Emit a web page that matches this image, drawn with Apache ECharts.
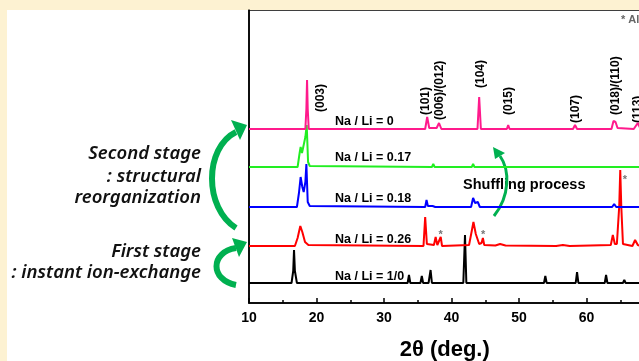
<!DOCTYPE html>
<html>
<head>
<meta charset="utf-8">
<script src="https://cdn.jsdelivr.net/npm/echarts@6/dist/echarts.min.js"></script>
<style>
  html, body { margin: 0; padding: 0; background: #fff; }
  #chart { width: 639px; height: 361px; }
</style>
</head>
<body>
<div id="chart"></div>
<script>
// vertical offsets of each pattern (stacked plot)
var offsets = { black: 20, red: 57, blue: 96, green: 136, pink: 174 }

// [2theta, intensity above own baseline]
var blackPts = [[10,0],[16.3,0],[16.55,12],[16.67,33],[16.8,12],[17.1,0],[33.5,0],[33.7,8],[33.9,0],[35.4,0],[35.6,7],[35.8,0],
  [36.6,0],[36.9,13],[37.1,0],[41.75,0],[42.0,48],[42.2,0],[45.2,0],[45.4,2],[45.6,0],[53.7,0],[53.9,7],[54.1,0],
  [58.4,0],[58.6,11],[58.8,0],[62.7,0],[62.9,8],[63.1,0],[65.4,0],[65.6,3],[65.8,0],[68,0]]
var redPts = [[10,0],[16.8,0],[17.2,8],[17.6,20],[17.9,14],[18.3,4],[18.8,1],[35.85,0],[36.1,29],[36.35,2],[37.4,1],[37.65,9],
  [37.9,1],[38.15,1],[38.4,9],[38.6,0],[42.6,1],[43.0,15],[43.25,24],[43.6,12],[44.1,2],[44.45,3],[44.65,8],[44.85,1],
  [46.5,0.5],[47.2,2],[48,0.5],[55.5,0],[56.5,1],[57.5,0],[63.6,1],[63.9,11],[64.2,2],[64.5,2],[64.85,40],[65.0,76],
  [65.15,40],[65.4,2],[66.8,0],[67.2,6],[67.6,1],[68,0]]
var bluePts = [[10,0],[17.1,0],[17.4,14],[17.65,30],[17.9,20],[18.1,15],[18.35,25],[18.5,43],[18.7,5],[19.0,1],[36.1,0],
  [36.3,7],[36.5,1],[37.2,1],[37.4,2],[37.6,0],[42.9,0],[43.2,9],[43.5,4],[43.9,5],[44.2,0],[63.8,0],[64.1,3],[64.4,0],[68,0]]
var greenPts = [[10,0],[17.2,0],[17.5,14],[17.65,20],[17.85,14],[18.1,15],[18.35,30],[18.55,42],[18.75,5],[19.0,1],[37.1,0],
  [37.3,3],[37.5,0],[43.0,0],[43.2,3],[43.4,0],[63.8,0],[64.0,2],[64.2,0],[68,0]]
var pinkPts = [[10,0],[18.35,0],[18.5,20],[18.6,49],[18.7,20],[18.85,0],[21.8,0],[22.0,2],[22.2,0],[36.1,0],[36.4,12],[36.7,1],
  [37.8,1],[38.15,6],[38.5,0],[43.85,0],[44.1,32],[44.35,0],[48.2,0],[48.4,4],[48.6,0],[58.0,0],[58.3,4],[58.6,0],
  [63.7,0],[64.0,8],[64.3,7],[64.6,1],[67.0,0],[67.6,6],[68,0]]

var sampleNames = ['Na / Li = 1/0', 'Na / Li = 0.26', 'Na / Li = 0.18', 'Na / Li = 0.17', 'Na / Li = 0']
var sampleLabelY = [26, 63, 104, 145, 181]

var hklText = ['(003)', '(101)', '(006)/(012)', '(104)', '(015)', '(107)', '(018)/(110)', '(113)']
var hklX = [20.6, 36.2, 38.25, 44.3, 48.5, 58.4, 64.3, 67.6]
var hklY = [191, 188, 183, 215, 188, 180, 188, 180]

var starX = [38.4, 44.7, 65.7]
var starY = [68, 68, 123]

function shift(pts, off) {
  return pts.map(function (p) { return [p[0], p[1] + off] })
}

var lineStyle = function (c) { return { color: c, width: 2 } }
var font = 'Liberation Sans'
var green = '#00b050'
var capFont = 'italic 600 18.5px Noto Sans'

var chart = echarts.init(document.getElementById('chart'))
chart.setOption({
  backgroundColor: '#fff',
  animation: false,
  grid: { left: 249, top: 10, width: 391.5, bottom: 58, outerBoundsMode: 'none', containLabel: false,
    show: true, borderColor: '#000', borderWidth: 1.5, backgroundColor: '#fff' },
  xAxis: {
    type: 'value', min: 10, max: 68, interval: 10,
    axisLine: { lineStyle: { color: '#000', width: 1.5 } },
    axisTick: { inside: true, length: 5, lineStyle: { color: '#000', width: 1.5 } },
    minorTick: { show: true, splitNumber: 2, length: 3, lineStyle: { color: '#000', width: 1.5 } },
    splitLine: { show: false },
    axisLabel: { color: '#000', fontFamily: font, fontWeight: 'bold', fontSize: 14, margin: 8,
      formatter: function (v) { return v > 65 ? '' : v } },
    name: '2\u03b8 (deg.)', nameLocation: 'middle', nameGap: 36,
    nameTextStyle: { color: '#000', fontFamily: font, fontWeight: 'bold', fontSize: 22 }
  },
  yAxis: {
    type: 'value', min: 0, max: 293,
    axisLine: { show: true, lineStyle: { color: '#000', width: 1.5 } },
    axisTick: { show: false }, axisLabel: { show: false }, splitLine: { show: false }
  },
  series: [
    { type: 'line', data: shift(blackPts, offsets.black), showSymbol: false, lineStyle: lineStyle('#000') },
    { type: 'line', data: shift(redPts, offsets.red), showSymbol: false, lineStyle: lineStyle('#ff0000') },
    { type: 'line', data: shift(bluePts, offsets.blue), showSymbol: false, lineStyle: lineStyle('#0000ff') },
    { type: 'line', data: shift(greenPts, offsets.green), showSymbol: false, lineStyle: lineStyle('#22ee22') },
    { type: 'line', data: shift(pinkPts, offsets.pink), showSymbol: false, lineStyle: lineStyle('#ff1a8c') },
    {
      type: 'scatter', symbolSize: 0, silent: true, itemStyle: { opacity: 1 },
      data: sampleNames.map(function (n, i) { return { value: [22.75, sampleLabelY[i]], name: n } }),
      label: { show: true, position: [0, 0], align: 'left', verticalAlign: 'middle', formatter: '{b}',
        color: '#000', textBorderWidth: 0, fontFamily: font, fontWeight: 'bold', fontSize: 12.5 }
    },
    {
      type: 'scatter', symbolSize: 0, silent: true, itemStyle: { opacity: 1 },
      data: hklText.map(function (t, i) { return { value: [hklX[i], hklY[i]], name: t } }),
      label: { show: true, position: [0, 0], align: 'left', verticalAlign: 'middle', rotate: 90, formatter: '{b}',
        color: '#000', textBorderWidth: 0, fontFamily: font, fontWeight: 'bold', fontSize: 12 }
    },
    {
      type: 'scatter', symbolSize: 0, silent: true, itemStyle: { opacity: 1 },
      data: starX.map(function (x, i) { return [x, starY[i]] }),
      label: { show: true, position: [0, 0], align: 'center', verticalAlign: 'middle', formatter: '*',
        color: '#777', textBorderWidth: 0, fontFamily: font, fontWeight: 'bold', fontSize: 11 }
    }
  ],
  graphic: [
    { type: 'rect', shape: { x: 0, y: 0, width: 639, height: 10 }, style: { fill: '#fdf2d2' } },
    { type: 'rect', shape: { x: 0, y: 0, width: 7, height: 361 }, style: { fill: '#fdf2d2' } },
    { type: 'text', x: 621, y: 20, style: { text: '* Al', fill: '#666', font: 'bold 11px Liberation Sans', verticalAlign: 'middle' } },
    { type: 'text', x: 463, y: 185, style: { text: 'Shuffling process', fill: '#000', font: 'bold 14.5px Liberation Sans', verticalAlign: 'middle' } },
    // left side captions
    { type: 'text', x: 201, y: 154, style: { text: 'Second stage', fill: '#111', font: capFont, align: 'right', verticalAlign: 'middle' } },
    { type: 'text', x: 201, y: 177, style: { text: ': structural', fill: '#111', font: capFont, align: 'right', verticalAlign: 'middle' } },
    { type: 'text', x: 201, y: 198, style: { text: 'reorganization', fill: '#111', font: capFont, align: 'right', verticalAlign: 'middle' } },
    { type: 'text', x: 201, y: 252, style: { text: 'First stage', fill: '#111', font: capFont, align: 'right', verticalAlign: 'middle' } },
    { type: 'text', x: 201, y: 273, style: { text: ': instant ion-exchange', fill: '#111', font: capFont, align: 'right', verticalAlign: 'middle' } },
    // big curved arrow
    { type: 'bezierCurve', shape: { x1: 236, y1: 228, cpx1: 204, cpy1: 208, cpx2: 204, cpy2: 148, x2: 236, y2: 132 },
      style: { stroke: green, lineWidth: 6, fill: 'none' } },
    { type: 'polygon', shape: { points: [[247, 125], [231, 120], [240, 140]] }, style: { fill: green } },
    // small curved arrow
    { type: 'bezierCurve', shape: { x1: 236, y1: 285, cpx1: 210, cpy1: 280, cpx2: 210, cpy2: 252, x2: 236, y2: 248 },
      style: { stroke: green, lineWidth: 6, fill: 'none' } },
    { type: 'polygon', shape: { points: [[247, 242], [232, 238], [239, 257]] }, style: { fill: green } },
    // shuffling arrow
    { type: 'bezierCurve', shape: { x1: 494, y1: 216, cpx1: 510, cpy1: 196, cpx2: 510, cpy2: 170, x2: 500, y2: 156 },
      style: { stroke: green, lineWidth: 3, fill: 'none' } },
    { type: 'polygon', shape: { points: [[493, 147], [495, 159], [505, 153]] }, style: { fill: green } }
  ]
})
</script>
</body>
</html>
